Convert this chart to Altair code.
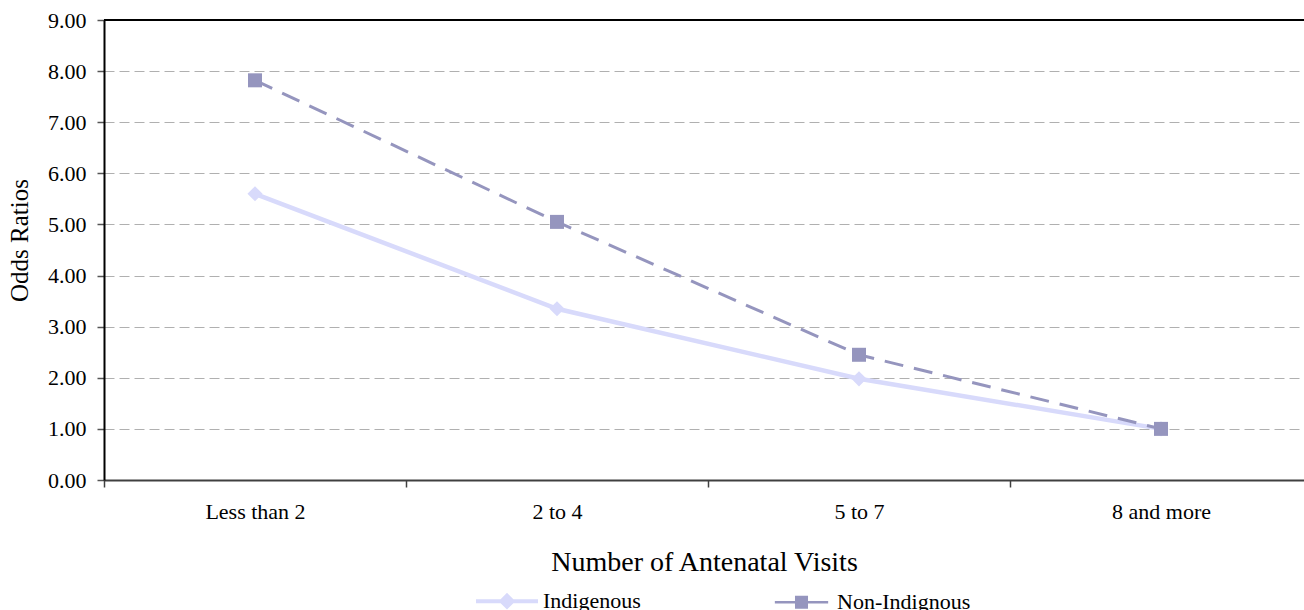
import json
import altair as alt
import pandas as pd

# ---- data ----
categories = ["Less than 2", "2 to 4", "5 to 7", "8 and more"]
indigenous = [5.60, 3.35, 1.98, 1.00]
non_indigenous = [7.82, 5.05, 2.45, 1.00]
series_names = ["Indigenous", "Non-Indignous"]
series_colors = ["#D8DAFB", "#9595BE"]
y_ticks = [0, 1, 2, 3, 4, 5, 6, 7, 8, 9]

FONT = "Liberation Serif"
PLOT_W, PLOT_H = 1200, 460
BAND = 302  # pixel width of one category band
x_max = PLOT_W / BAND

rows = []
for name, vals in zip(series_names, [indigenous, non_indigenous]):
    for i, (c, v) in enumerate(zip(categories, vals)):
        rows.append({"cat": c, "pos": i + 0.5, "series": name, "value": v})
df = pd.DataFrame(rows)

label_expr = json.dumps(categories) + "[datum.value]"

x_enc = alt.X(
    "pos:Q",
    scale=alt.Scale(domain=[0, x_max], nice=False, zero=False),
    axis=alt.Axis(
        title="Number of Antenatal Visits",
        values=list(range(len(categories))),
        labelExpr=label_expr,
        labelOffset=BAND / 2,
        labelFlush=False,
        labelOverlap=False,
        labelBound=False,
        grid=False,
        domainColor="#404040",
        domainWidth=2,
        tickColor="#404040",
        tickWidth=1.5,
        tickSize=7,
        labelPadding=14,
        labelFontSize=22,
        labelFont=FONT,
        labelColor="#000000",
        titleFont=FONT,
        titleFontSize=28,
        titleFontWeight="normal",
        titleColor="#000000",
        titlePadding=26,
    ),
)
y_enc = alt.Y(
    "value:Q",
    scale=alt.Scale(domain=[0, 9], nice=False),
    axis=alt.Axis(
        title="Odds Ratios",
        values=y_ticks,
        format=".2f",
        grid=True,
        gridColor="#B0B0B0",
        gridDash=[10, 5],
        gridWidth=1,
        domainColor="#000000",
        domainWidth=2,
        tickColor="#555555",
        tickWidth=1.5,
        tickSize=7,
        labelPadding=11,
        labelFontSize=22,
        labelFont=FONT,
        labelColor="#000000",
        titleFont=FONT,
        titleFontSize=25,
        titleFontWeight="normal",
        titleColor="#000000",
        titlePadding=15,
        titleY=220,
    ),
)

base = alt.Chart(df)

ind_line = base.transform_filter(alt.datum.series == series_names[0]).mark_line(
    color=series_colors[0], strokeWidth=4.5
).encode(x=x_enc, y=y_enc)
ind_pts = base.transform_filter(alt.datum.series == series_names[0]).mark_point(
    shape="diamond", filled=True, color=series_colors[0], size=230, opacity=1
).encode(x="pos:Q", y="value:Q")
non_line = base.transform_filter(alt.datum.series == series_names[1]).mark_line(
    color=series_colors[1], strokeWidth=3, strokeDash=[19, 11]
).encode(x="pos:Q", y="value:Q")
non_pts = base.transform_filter(alt.datum.series == series_names[1]).mark_point(
    shape="square", filled=True, color=series_colors[1], size=196, opacity=1
).encode(x="pos:Q", y="value:Q")

top_rule = alt.Chart(pd.DataFrame({"v": [max(y_ticks)]})).mark_rule(
    color="#000000", strokeWidth=2
).encode(y="v:Q")

# legend symbols: line segment with marker, as custom unit paths
legend_paths = [
    "M-1,0L1,0M0,-0.18L0.18,0L0,0.18L-0.18,0Z",
    "M-0.86,0L0.86,0M-0.17,-0.17L0.17,-0.17L0.17,0.17L-0.17,0.17Z",
]
leg = alt.Legend(
    title=None,
    orient="none",
    direction="horizontal",
    legendX=370,
    legendY=548,
    symbolSize=3844,
    symbolOpacity=1,
    labelFont=FONT,
    labelFontSize=22,
    labelColor="#000000",
    labelOffset=3,
    columnPadding=128,
    padding=0,
)
legend_layer = base.mark_point(filled=True, opacity=0).encode(
    x="pos:Q",
    y="value:Q",
    shape=alt.Shape("series:N", scale=alt.Scale(domain=series_names, range=legend_paths), legend=leg),
    fill=alt.Fill("series:N", scale=alt.Scale(domain=series_names, range=series_colors), legend=leg),
    stroke=alt.Stroke("series:N", scale=alt.Scale(domain=series_names, range=series_colors), legend=leg),
    strokeWidth=alt.StrokeWidth("series:N", scale=alt.Scale(domain=series_names, range=[4, 2.5]), legend=leg),
)

chart = (
    alt.layer(ind_line, ind_pts, non_line, non_pts, top_rule, legend_layer)
    .properties(
        width=PLOT_W,
        height=PLOT_H,
        padding={"left": 104, "top": 20, "right": 0, "bottom": 130},
        autosize=alt.AutoSizeParams(type="none"),
        background="#FFFFFF",
    )
    .configure_view(stroke=None)
)

chart.save("out.html", embed_options={"renderer": "svg", "actions": False})
